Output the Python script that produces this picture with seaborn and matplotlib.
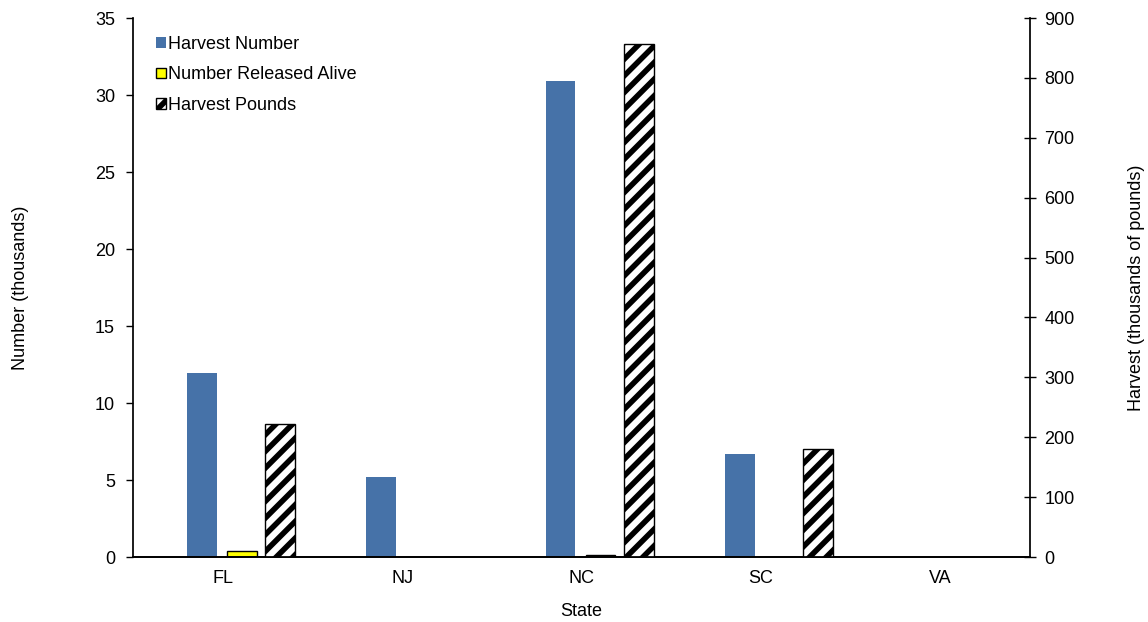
import numpy as np
import matplotlib
matplotlib.use("Agg")
import matplotlib.pyplot as plt
import seaborn as sns
from matplotlib.patches import Patch

# Données
states = ["FL", "NJ", "NC", "SC", "VA"]
harvest_number = [11.95, 5.2, 30.9, 6.7, 0.0]
released_alive = [0.4, 0.0, 0.1, 0.0, 0.0]
harvest_pounds = [222, 0, 856, 180, 0]

sns.set_theme(style="white")
plt.rcParams["font.family"] = ["Liberation Sans", "DejaVu Sans"]
plt.rcParams["hatch.linewidth"] = 4.0
plt.rcParams["text.color"] = "black"
plt.rcParams["axes.labelcolor"] = "black"
plt.rcParams["xtick.color"] = "black"
plt.rcParams["ytick.color"] = "black"

fig = plt.figure(figsize=(11.48, 6.22), dpi=100)
ax = fig.add_axes([0.1159, 0.1045, 0.7813, 0.8665])
ax2 = ax.twinx()

idx = np.arange(len(states))
w = 0.165
fs = 13

sns.barplot(x=idx - 0.117, y=harvest_number, native_scale=True, width=w,
            color="#4672A8", saturation=1, errorbar=None, ax=ax, linewidth=0)
sns.barplot(x=idx + 0.106, y=released_alive, native_scale=True, width=w,
            color="#FFFF00", saturation=1, errorbar=None, ax=ax,
            edgecolor="black", linewidth=1)
sns.barplot(x=idx + 0.319, y=harvest_pounds, native_scale=True, width=w,
            color="white", saturation=1, errorbar=None, ax=ax2,
            edgecolor="black", linewidth=1, hatch="//")

ax.set_xlim(-0.5, 4.5)
ax.set_ylim(0, 35)
ax.set_yticks(range(0, 36, 5))
ax2.set_ylim(0, 900)
ax2.set_yticks(range(0, 901, 100))

ax.set_xticks(idx)
ax.set_xticklabels(states)
ax.set_xticks(np.arange(-0.5, 5, 1), minor=True)
ax.tick_params(axis="x", which="major", length=0, pad=9, labelsize=fs, labelcolor="black")
ax.tick_params(axis="x", which="minor", length=5, width=1, direction="out", color="#555555")
ax.tick_params(axis="y", length=5, width=1, direction="out", color="black",
               labelsize=fs, pad=8, labelcolor="black")
ax2.tick_params(axis="y", length=9, width=1, direction="inout", color="black",
                labelsize=fs, pad=6, labelcolor="black")

for a in (ax, ax2):
    a.spines["top"].set_visible(False)
    a.spines["left"].set_color("black")
    a.spines["right"].set_color("black")
    a.spines["bottom"].set_color("black")
    a.set_xlabel("")
ax.spines["right"].set_visible(False)
ax2.spines["left"].set_visible(False)

ax.set_xlabel("State", fontsize=fs, color="black")
ax.xaxis.set_label_coords(0.5, -0.085)
ax.set_ylabel("Number (thousands)", fontsize=fs, color="black")
ax.yaxis.set_label_coords(-0.116, 0.5)
ax2.set_ylabel("Harvest (thousands of pounds)", fontsize=fs, color="black")
ax2.yaxis.set_label_coords(1.109, 0.5)

handles = [
    Patch(facecolor="#4672A8", edgecolor="none", label="Harvest Number"),
    Patch(facecolor="#FFFF00", edgecolor="black", label="Number Released Alive"),
    Patch(facecolor="white", edgecolor="black", hatch="//", label="Harvest Pounds"),
]
leg = ax.legend(handles=handles, loc="upper left", bbox_to_anchor=(0.008, 0.997),
                frameon=False, fontsize=fs, handlelength=0.5, handleheight=0.5,
                handletextpad=0.15, labelspacing=0.75)
for t in leg.get_texts():
    t.set_color("black")

fig.savefig("out.png", dpi=100)
